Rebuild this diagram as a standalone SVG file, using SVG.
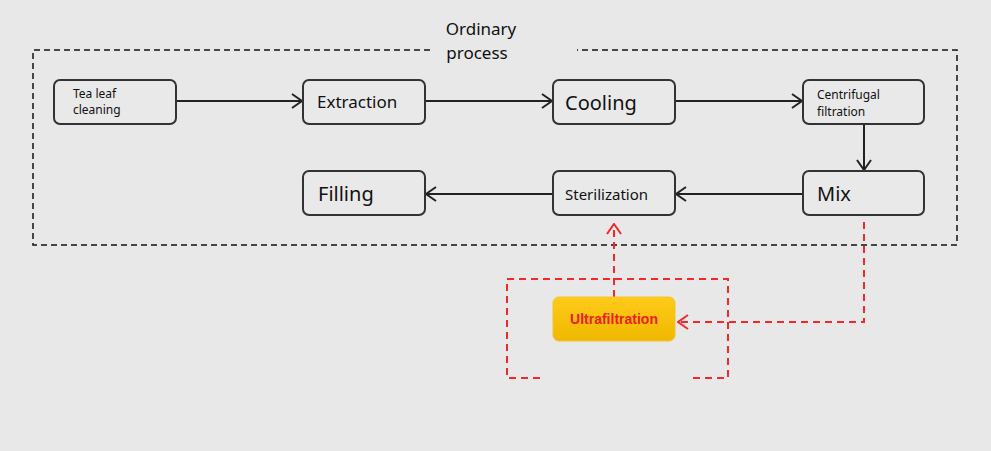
<svg xmlns="http://www.w3.org/2000/svg" width="991" height="451" viewBox="0 0 991 451">
<defs>
<style>
.node{fill:#e9e9e9;stroke:#333;stroke-width:2}
.t{font-family:"Noto Sans","Open Sans",sans-serif;fill:#111}
.blk{stroke:#222;stroke-width:2;fill:none}
.red{stroke:#ee2a2a;stroke-width:2;fill:none;stroke-dasharray:7 5}
</style>
<marker id="ah" viewBox="0 0 12 16" refX="11" refY="8" markerWidth="12" markerHeight="16" markerUnits="userSpaceOnUse" orient="auto">
<path d="M1,1 L11,8 L1,15" fill="none" stroke="#222" stroke-width="2"/>
</marker>
<marker id="ahr" viewBox="0 0 12 16" refX="11" refY="8" markerWidth="12" markerHeight="16" markerUnits="userSpaceOnUse" orient="auto">
<path d="M1,1 L11,8 L1,15" fill="none" stroke="#ee2a2a" stroke-width="2"/>
</marker>
<linearGradient id="gold" x1="0" y1="0" x2="0" y2="1">
<stop offset="0" stop-color="#ffcb1a"/>
<stop offset="1" stop-color="#efb800"/>
</linearGradient>
</defs>
<rect width="991" height="451" fill="#e8e8e8"/>
<g id="group-ordinary">
<path d="M430,50 H33 V245 H957 V50 H577" fill="none" stroke="#111" stroke-width="1.5" stroke-dasharray="6 4"/>
<text class="t" x="481" y="35" font-size="17" text-anchor="middle">Ordinary</text>
<text class="t" x="477" y="59" font-size="17" text-anchor="middle">process</text>
</g>
<g id="group-uf">
<path d="M540,378 H507 V279 H728 V378 H688" class="red"/>
</g>
<g id="connectors">
<line x1="176" y1="101" x2="302" y2="101" class="blk" marker-end="url(#ah)"/>
<line x1="425" y1="101" x2="552" y2="101" class="blk" marker-end="url(#ah)"/>
<line x1="675" y1="101" x2="802" y2="101" class="blk" marker-end="url(#ah)"/>
<line x1="864" y1="124" x2="864" y2="170" class="blk" marker-end="url(#ah)"/>
<line x1="803" y1="194" x2="676" y2="194" class="blk" marker-end="url(#ah)"/>
<line x1="553" y1="194" x2="426" y2="194" class="blk" marker-end="url(#ah)"/>
<path d="M864,222 V322 H678" class="red" marker-end="url(#ahr)"/>
<path d="M614,297 V224" class="red" marker-end="url(#ahr)"/>
</g>
<g id="n-tea"><rect class="node" x="54" y="80" width="122" height="44" rx="6"/>
<text class="t" x="73" y="98" font-size="12">Tea leaf</text><text class="t" x="73" y="114" font-size="12">cleaning</text></g>
<g id="n-extraction"><rect class="node" x="303" y="80" width="122" height="44" rx="6"/>
<text class="t" x="317" y="108" font-size="17">Extraction</text></g>
<g id="n-cooling"><rect class="node" x="553" y="80" width="122" height="44" rx="6"/>
<text class="t" x="565" y="110" font-size="20">Cooling</text></g>
<g id="n-centrifugal"><rect class="node" x="803" y="80" width="121" height="44" rx="6"/>
<text class="t" x="817" y="99" font-size="12">Centrifugal</text><text class="t" x="817" y="116" font-size="12">filtration</text></g>
<g id="n-mix"><rect class="node" x="803" y="171" width="121" height="44" rx="6"/>
<text class="t" x="817" y="201" font-size="20">Mix</text></g>
<g id="n-sterilization"><rect class="node" x="553" y="171" width="122" height="44" rx="6"/>
<text class="t" x="565" y="200" font-size="15">Sterilization</text></g>
<g id="n-filling"><rect class="node" x="303" y="171" width="122" height="44" rx="6"/>
<text class="t" x="318" y="201" font-size="20">Filling</text></g>
<g id="n-uf"><rect x="553" y="297" width="122" height="44" rx="6" fill="url(#gold)" stroke="#f3c232" stroke-width="1"/>
<text x="614" y="324" font-size="14" font-weight="bold" text-anchor="middle" fill="#ee1c1c" font-family="Liberation Sans, Arial, sans-serif">Ultrafiltration</text></g>
</svg>
